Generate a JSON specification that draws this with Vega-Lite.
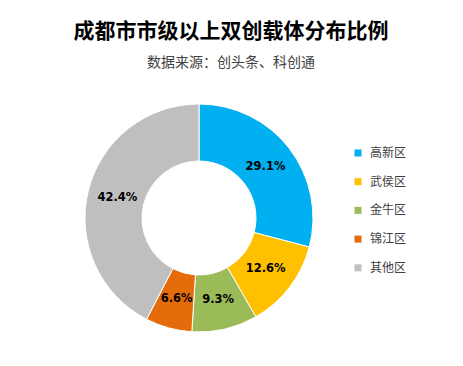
{
  "$schema": "https://vega.github.io/schema/vega-lite/v6.json",
  "autosize": {"type": "none"},
  "width": 398,
  "height": 296,
  "padding": {"left": 0, "top": 70, "right": 65, "bottom": 0},
  "background": "white",
  "config": {
    "view": {"stroke": null},
    "font": "Noto Sans CJK SC"
  },
  "title": {
    "text": "成都市市级以上双创载体分布比例",
    "subtitle": "数据来源：创头条、科创通",
    "font": "Noto Sans CJK SC",
    "fontSize": 21,
    "fontWeight": "bold",
    "color": "#000000",
    "subtitleFont": "Noto Sans CJK SC",
    "subtitleFontSize": 14,
    "subtitleColor": "#404040",
    "subtitlePadding": 14,
    "anchor": "middle",
    "dx": 32,
    "offset": 0
  },
  "data": {
    "values": [
      {"district": "高新区", "share": 29.1, "i": 1, "label": "29.1%"},
      {"district": "武侯区", "share": 12.6, "i": 2, "label": "12.6%"},
      {"district": "金牛区", "share": 9.3, "i": 3, "label": "9.3%"},
      {"district": "锦江区", "share": 6.6, "i": 4, "label": "6.6%"},
      {"district": "其他区", "share": 42.4, "i": 5, "label": "42.4%"}
    ]
  },
  "encoding": {
    "theta": {"field": "share", "type": "quantitative", "stack": true},
    "order": {"field": "i", "type": "quantitative"}
  },
  "layer": [
    {
      "mark": {"type": "arc", "outerRadius": 114, "innerRadius": 57, "stroke": "white", "strokeWidth": 1},
      "encoding": {
        "color": {
          "field": "district",
          "type": "nominal",
          "scale": {
            "domain": ["高新区", "武侯区", "金牛区", "锦江区", "其他区"],
            "range": ["#00B0F0", "#FFC000", "#9BBB59", "#E46C0A", "#BFBFBF"]
          },
          "legend": {
            "title": null,
            "orient": "none",
            "legendX": 352,
            "legendY": 77,
            "symbolType": "square",
            "symbolSize": 49,
            "symbolStrokeWidth": 0,
            "labelFontSize": 12,
            "labelColor": "#404040",
            "labelFont": "Noto Sans CJK SC",
            "labelOffset": 6,
            "rowPadding": 16.7,
            "padding": 0
          }
        }
      }
    },
    {
      "mark": {"type": "text", "radius": 84, "fontSize": 11.5, "fontWeight": "bold", "color": "#000000", "font": "DejaVu Sans"},
      "encoding": {
        "text": {"field": "label", "type": "nominal"}
      }
    }
  ]
}
